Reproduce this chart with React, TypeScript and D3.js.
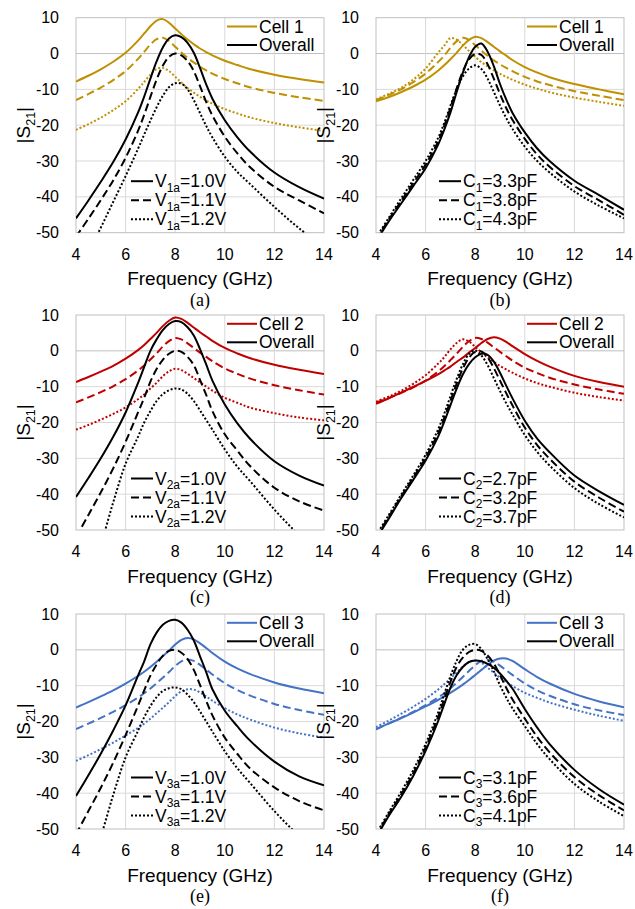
import React from 'react';
import * as d3 from 'd3';

// sample frequencies (GHz) shared by every trace
const FREQ = [4, 4.5, 5, 5.5, 6, 6.5, 6.75, 7, 7.25, 7.5, 7.75, 8, 8.25, 8.5, 8.75, 9, 9.25, 9.5, 10, 10.5, 11, 12, 13, 14];

const X_TICKS = [4, 6, 8, 10, 12, 14];
const Y_TICKS = [-50, -40, -30, -20, -10, 0, 10];

// (a) V1a sweep
const A_CELL_1 = [-7.8, -6.2, -4.4, -2.3, 0.2, 3.6, 5.6, 7.6, 9.2, 9.6, 8.6, 7.0, 5.4, 3.9, 2.6, 1.4, 0.4, -0.5, -2.0, -3.2, -4.3, -5.9, -7.1, -8.1];
const A_CELL_2 = [-13, -11.3, -9.5, -7.4, -4.9, -1.5, 0.5, 2.5, 4.0, 4.4, 3.5, 1.9, 0.3, -1.2, -2.5, -3.7, -4.7, -5.6, -7.1, -8.3, -9.4, -11, -12.2, -13.2];
const A_CELL_3 = [-21.3, -19.7, -17.9, -15.8, -13.3, -9.9, -7.9, -5.9, -4.3, -4.0, -4.9, -6.5, -8.1, -9.6, -10.9, -12.1, -13.1, -14, -15.5, -16.7, -17.8, -19.4, -20.6, -21.6];
const A_ALL_1 = [-46, -41, -35.8, -30.3, -24, -16.5, -12, -7, -2.2, 1.7, 4.2, 5.1, 4.6, 3.0, 0.2, -4, -8.6, -12.6, -18.6, -23.3, -27.2, -33.2, -37.3, -40.5];
const A_ALL_2 = [-51.1, -46.1, -40.9, -35.4, -29.1, -21.6, -17.1, -12.1, -7.3, -3.4, -0.9, 0, -0.5, -2.1, -4.9, -9.1, -13.5, -17.3, -23.2, -27.8, -31.6, -37.2, -41, -44.6];
const A_ALL_3 = [-62.8, -55.7, -48.6, -41.4, -34.2, -26.6, -22.6, -18.7, -15, -11.8, -9.4, -8.3, -8.4, -10.0, -13.0, -16.6, -20.2, -23.4, -28.8, -33, -36.3, -42.8, -48.8, -54];

// (b) C1 sweep
const B_CELL_1 = [-13.3, -12.2, -10.8, -9.2, -7.3, -4.8, -3.3, -1.6, 0.2, 2.2, 3.8, 4.7, 4.3, 3.2, 1.9, 0.6, -0.6, -1.8, -3.8, -5.3, -6.6, -8.5, -10, -11.4];
const B_CELL_2 = [-13, -11.6, -10, -8, -5.6, -2.4, -0.6, 1.6, 3.4, 4.4, 3.8, 2.3, 0.8, -0.6, -1.9, -3, -4, -4.9, -6.5, -7.8, -8.8, -10.5, -11.8, -13];
const B_CELL_3 = [-12.8, -11.3, -9.6, -7.3, -4.2, 0.2, 2.2, 4.3, 3.9, 2.4, 0.7, -0.9, -2.4, -3.6, -4.7, -5.7, -6.5, -7.3, -8.7, -9.8, -10.8, -12.3, -13.5, -14.6];
const B_ALL_1 = [-52.5, -47, -42, -37, -32, -25.5, -21.3, -16.5, -10.8, -5.4, -1, 1.9, 2.8, 0.5, -3.5, -8.5, -12.8, -16.5, -22, -26.5, -30, -35.5, -39.5, -43.6];
const B_ALL_2 = [-52, -46.5, -41.3, -36.2, -31, -24.6, -20.2, -15.2, -9.8, -5, -1.6, -0.1, -0.4, -3, -7, -11.3, -15.2, -18.5, -23.8, -28.2, -31.6, -37, -41, -45];
const B_ALL_3 = [-51.5, -46, -40.6, -35.3, -30, -23.6, -19.4, -14.6, -10, -6.4, -4.2, -3.3, -4.3, -7, -10.7, -14.5, -18, -21, -26, -30, -33.2, -38.5, -42.5, -46];

// (c) V2a sweep
const C_CELL_1 = [-8.7, -7.3, -5.8, -4.2, -2.2, 0.2, 1.6, 3.3, 5.0, 6.9, 8.4, 9.3, 8.9, 7.8, 6.5, 5.2, 4.0, 2.8, 0.8, -0.7, -2.0, -3.9, -5.3, -6.5];
const C_CELL_2 = [-14.4, -13, -11.5, -9.9, -7.9, -5.5, -4.1, -2.4, -0.7, 1.2, 2.7, 3.6, 3.2, 2.1, 0.8, -0.5, -1.7, -2.9, -4.9, -6.4, -7.7, -9.6, -11, -12.2];
const C_CELL_3 = [-22, -20.7, -19.2, -17.6, -15.8, -13.5, -12.2, -10.5, -8.9, -7.1, -5.7, -5.0, -5.4, -6.4, -7.6, -8.8, -10, -11.1, -13.1, -14.5, -15.8, -17.4, -18.6, -19.4];
const C_ALL_1 = [-40.8, -35.5, -30, -24, -17.2, -9, -4.5, 0, 3.2, 5.8, 7.5, 8.3, 8.0, 6.6, 4.3, 0.5, -3.8, -8.3, -15, -20.2, -24.4, -30.8, -34.8, -37.6];
const C_ALL_2 = [-52, -45.8, -39.5, -32.8, -25.4, -17.2, -13.1, -8.6, -5.1, -2.5, -0.8, 0, -0.3, -1.7, -4.0, -8.1, -12.3, -16.8, -23.3, -27.8, -32, -38.2, -42, -44.6];
const C_ALL_3 = [-75, -63, -54, -42.3, -31.5, -24, -20, -16.8, -14, -12.1, -11, -10.5, -10.8, -12, -14, -16.6, -19.3, -22, -27.5, -32.3, -36.2, -44.3, -51.5, -58];

// (d) C2 sweep
const D_CELL_1 = [-14.8, -13.3, -11.7, -10.1, -8.4, -6.6, -5.5, -4.4, -3.1, -1.9, -0.5, 0.8, 2.2, 3.3, 3.8, 3.4, 2.5, 1.3, -0.9, -2.8, -4.4, -7.0, -8.7, -10];
const D_CELL_2 = [-14.4, -13.2, -11.8, -10.2, -8.3, -5.8, -4.3, -2.6, -0.8, 1.1, 2.7, 3.6, 3.3, 2.3, 1.0, -0.3, -1.5, -2.7, -4.7, -6.2, -7.5, -9.4, -10.8, -12];
const D_CELL_3 = [-14.2, -12.8, -11.2, -9.2, -6.8, -3.6, -1.8, 0.4, 2.2, 3.2, 2.6, 1.1, -0.4, -1.8, -3.1, -4.2, -5.2, -6.1, -7.7, -9.0, -10, -11.7, -12.9, -13.9];
const D_ALL_1 = [-52.5, -47, -41.3, -36, -30.6, -24, -19.8, -15.2, -10.6, -6.6, -3.7, -1.8, -0.8, -1.1, -3, -6.1, -9.7, -13.2, -19.5, -24.5, -28.3, -34.8, -39.2, -43];
const D_ALL_2 = [-52, -46.5, -40.8, -35.4, -29.8, -23.1, -18.8, -14, -9.2, -5, -1.9, -0.3, -0.2, -1.8, -4.8, -8.3, -11.8, -15.2, -21.4, -26.3, -30.1, -36.5, -41, -44.9];
const D_ALL_3 = [-51.5, -46, -40.3, -34.8, -29, -22, -17.6, -12.7, -7.9, -3.8, -0.9, 0.1, -1.3, -4, -7.6, -11.2, -14.6, -17.7, -23.5, -28.2, -32, -38.3, -42.8, -46.5];

// (e) V3a sweep
const E_CELL_1 = [-16.1, -14.6, -13, -11.3, -9.4, -7.3, -6.1, -4.8, -3.3, -1.8, -0.2, 1.5, 2.8, 3.3, 2.9, 1.8, 0.5, -0.9, -3.3, -5.2, -6.7, -9.1, -10.8, -12.1];
const E_CELL_2 = [-22.1, -20.6, -19, -17.3, -15.4, -13.3, -12.1, -10.8, -9.3, -7.8, -6.2, -4.5, -3.2, -2.7, -3.1, -4.2, -5.5, -6.9, -9.3, -11.2, -12.7, -15.1, -16.8, -18.1];
const E_CELL_3 = [-31, -29.4, -27.7, -25.9, -23.9, -21.8, -20.6, -19.2, -17.7, -16.2, -14.6, -12.9, -11.6, -11.0, -11.1, -11.9, -13.0, -14.2, -16.3, -18, -19.4, -21.7, -23.3, -24.5];
const E_ALL_1 = [-40.8, -35, -29, -22.5, -15.5, -7.2, -3.2, 1.5, 4.8, 7.0, 8.1, 8.4, 7.6, 5.6, 2.6, -1.8, -6.2, -11.0, -17, -21.3, -25.2, -31.2, -35.3, -37.8];
const E_ALL_2 = [-51.5, -45, -38.5, -31.5, -23.8, -15.6, -11.3, -7.2, -4.1, -1.7, -0.3, 0, -0.8, -2.6, -5.6, -9.8, -14.2, -18.3, -24.5, -29, -33, -38.4, -42.2, -44.8];
const E_ALL_3 = [-73, -61, -52, -40.5, -30, -22.6, -18.8, -15.7, -13.2, -11.5, -10.7, -10.5, -11, -12.5, -14.6, -17.2, -20, -22.8, -28.3, -33, -37, -45, -52, -58];

// (f) C3 sweep
const F_CELL_1 = [-22.2, -20.6, -19.1, -17.5, -15.8, -14, -13, -12, -10.9, -9.7, -8.4, -7.0, -5.6, -4.2, -3.0, -2.4, -2.4, -3.1, -5.4, -7.6, -9.4, -12.3, -14.4, -16.0];
const F_CELL_2 = [-22.1, -20.6, -19, -17.3, -15.4, -13.3, -12.1, -10.7, -9.2, -7.6, -5.9, -4.3, -3.1, -2.8, -3.3, -4.4, -5.7, -7.0, -9.4, -11.3, -12.8, -15.2, -16.9, -18.2];
const F_CELL_3 = [-21.6, -19.8, -17.9, -15.9, -13.7, -11.1, -9.6, -8.0, -6.3, -4.7, -3.4, -3.0, -3.6, -5.0, -6.4, -7.8, -9, -10.1, -12, -13.4, -14.7, -16.7, -18.4, -19.8];
const F_ALL_1 = [-52.5, -46.5, -41.2, -35.2, -28.2, -20, -15.2, -10.6, -7.1, -4.8, -3.4, -3.0, -3.2, -3.9, -5.0, -6.6, -8.6, -10.8, -16.5, -21.7, -26.3, -33.5, -38.9, -43.2];
const F_ALL_2 = [-52, -46, -40.5, -34.5, -27.2, -18.8, -13.8, -9.0, -4.8, -2.2, -0.6, 0, -0.3, -1.6, -3.8, -7, -10.6, -13.8, -19.2, -24.3, -28.6, -35.5, -40.6, -44.8];
const F_ALL_3 = [-51.5, -45.5, -39.8, -33.6, -26.3, -17.6, -12.4, -7.4, -3.1, 0, 1.4, 1.6, 0.2, -2.6, -6, -9.9, -13.3, -16.3, -21.3, -26.3, -30.5, -37.4, -42.4, -46.4];

// legend labels: [main, subscript, rest]
const PARAMS_A = [['V', '1a', '=1.0V'], ['V', '1a', '=1.1V'], ['V', '1a', '=1.2V']];
const PARAMS_B = [['C', '1', '=3.3pF'], ['C', '1', '=3.8pF'], ['C', '1', '=4.3pF']];
const PARAMS_C = [['V', '2a', '=1.0V'], ['V', '2a', '=1.1V'], ['V', '2a', '=1.2V']];
const PARAMS_D = [['C', '2', '=2.7pF'], ['C', '2', '=3.2pF'], ['C', '2', '=3.7pF']];
const PARAMS_E = [['V', '3a', '=1.0V'], ['V', '3a', '=1.1V'], ['V', '3a', '=1.2V']];
const PARAMS_F = [['C', '3', '=3.1pF'], ['C', '3', '=3.6pF'], ['C', '3', '=4.1pF']];

const CELL_NAMES = ['Cell 1', 'Cell 2', 'Cell 3'];
const CELL_COLORS = ['#BF9000', '#C00000', '#4472C4'];
const TAGS = ['(a)', '(b)', '(c)', '(d)', '(e)', '(f)'];

const PANELS = [
  { cell: [A_CELL_1, A_CELL_2, A_CELL_3], overall: [A_ALL_1, A_ALL_2, A_ALL_3], params: PARAMS_A },
  { cell: [B_CELL_1, B_CELL_2, B_CELL_3], overall: [B_ALL_1, B_ALL_2, B_ALL_3], params: PARAMS_B },
  { cell: [C_CELL_1, C_CELL_2, C_CELL_3], overall: [C_ALL_1, C_ALL_2, C_ALL_3], params: PARAMS_C },
  { cell: [D_CELL_1, D_CELL_2, D_CELL_3], overall: [D_ALL_1, D_ALL_2, D_ALL_3], params: PARAMS_D },
  { cell: [E_CELL_1, E_CELL_2, E_CELL_3], overall: [E_ALL_1, E_ALL_2, E_ALL_3], params: PARAMS_E },
  { cell: [F_CELL_1, F_CELL_2, F_CELL_3], overall: [F_ALL_1, F_ALL_2, F_ALL_3], params: PARAMS_F },
];

const W = 635;
const H = 909;
const PLOT_W = 248;
const PLOT_H = 215;
const COL_X = [76, 376];
const ROW_Y = [17.7, 315, 614];
const DASH = ['none', '8,4', '2,2'];
const SANS = '"Liberation Sans", Arial, sans-serif';
const SERIF = '"Liberation Serif", "Times New Roman", serif';

function Panel({ idx }: { idx: number }) {
  const col = idx % 2;
  const row = Math.floor(idx / 2);
  const x0 = COL_X[col];
  const y0 = ROW_Y[row];
  const p = PANELS[idx];
  const color = CELL_COLORS[row];

  const x = d3.scaleLinear().domain([4, 14]).range([x0, x0 + PLOT_W]);
  const y = d3.scaleLinear().domain([-50, 10]).range([y0 + PLOT_H, y0]);
  const line = d3
    .line<number>()
    .x((_, i) => x(FREQ[i]))
    .y((v) => y(v))
    .curve(d3.curveCatmullRom.alpha(0.5));

  const clipId = `clip-${idx}`;
  const legX = col === 0 ? [x0 + 55, x0 + 77, x0 + 79] : [x0 + 63, x0 + 85, x0 + 87];
  const legRows = [163.5, 182.5, 201.5];

  return (
    <g>
      <defs>
        <clipPath id={clipId}>
          <rect x={x0} y={y0} width={PLOT_W} height={PLOT_H} />
        </clipPath>
      </defs>

      {/* grid */}
      {Y_TICKS.slice(1, -1).map((t) => (
        <line key={'gy' + t} x1={x0} x2={x0 + PLOT_W} y1={y(t)} y2={y(t)}
          stroke={t === 0 ? '#BFBFBF' : '#D9D9D9'} strokeWidth={1} />
      ))}
      {X_TICKS.slice(1, -1).map((t) => (
        <line key={'gx' + t} x1={x(t)} x2={x(t)} y1={y0} y2={y0 + PLOT_H} stroke="#D9D9D9" strokeWidth={1} />
      ))}
      <rect x={x0} y={y0} width={PLOT_W} height={PLOT_H} fill="none" stroke="#BFBFBF" strokeWidth={1} />

      {/* curves */}
      <g clipPath={`url(#${clipId})`} fill="none">
        {p.cell.map((s, i) => (
          <path key={'c' + i} d={line(s) || ''} stroke={color} strokeWidth={2} strokeDasharray={DASH[i]} />
        ))}
        {p.overall.map((s, i) => (
          <path key={'o' + i} d={line(s) || ''} stroke="#000" strokeWidth={2} strokeDasharray={DASH[i]} />
        ))}
      </g>

      {/* tick labels */}
      {Y_TICKS.map((t) => (
        <text key={'ty' + t} x={x0 - 17} y={y(t)} dy="0.35em" textAnchor="end" fontSize={16} fontFamily={SANS} fill="#000">
          {t}
        </text>
      ))}
      {X_TICKS.map((t) => (
        <text key={'tx' + t} x={x(t)} y={y0 + PLOT_H + 27} textAnchor="middle" fontSize={16} fontFamily={SANS} fill="#000">
          {t}
        </text>
      ))}

      {/* axis titles */}
      <text x={x0 + PLOT_W / 2} y={y0 + PLOT_H + 52.5} textAnchor="middle" fontSize={19} fontFamily={SANS} fill="#000">
        Frequency (GHz)
      </text>
      <text
        transform={`translate(${x0 - 53},${y0 + PLOT_H / 2}) rotate(-90)`}
        textAnchor="middle"
        dy="0.35em"
        fontSize={19}
        fontFamily={SANS}
        fill="#000"
      >
        |S<tspan fontSize={12.5} dy={5}>21</tspan><tspan dy={-5}>|</tspan>
      </text>
      <text x={x0 + PLOT_W / 2} y={y0 + PLOT_H + 73} textAnchor="middle" fontSize={18} fontFamily={SERIF} fill="#000">
        {TAGS[idx]}
      </text>

      {/* top legend */}
      {[CELL_NAMES[row], 'Overall'].map((name, i) => {
        const ly = y0 + (i === 0 ? 8.8 : 27.3);
        return (
          <g key={'tl' + i}>
            <line x1={x0 + 151} x2={x0 + 181} y1={ly} y2={ly} stroke={i === 0 ? color : '#000'} strokeWidth={2} />
            <text x={x0 + 183} y={ly} dy="0.35em" fontSize={17.5} fontFamily={SANS} fill="#000">{name}</text>
          </g>
        );
      })}

      {/* parameter legend */}
      {p.params.map((lab, i) => {
        const ly = y0 + legRows[i];
        return (
          <g key={'pl' + i}>
            <line x1={legX[0]} x2={legX[1]} y1={ly} y2={ly} stroke="#000" strokeWidth={2} strokeDasharray={DASH[i]} />
            <text x={legX[2]} y={ly} dy="0.35em" fontSize={17.5} fontFamily={SANS} fill="#000">
              {lab[0]}
              <tspan fontSize={12} dy={4.5}>{lab[1]}</tspan>
              <tspan dy={-4.5}>{lab[2]}</tspan>
            </text>
          </g>
        );
      })}
    </g>
  );
}

export default function App() {
  return (
    <svg
      width={W}
      height={H}
      viewBox={`0 0 ${W} ${H}`}
      style={{ position: 'absolute', left: 0, top: 0, background: '#fff' }}
    >
      <rect width={W} height={H} fill="#fff" />
      {PANELS.map((_, i) => (
        <Panel key={i} idx={i} />
      ))}
    </svg>
  );
}
